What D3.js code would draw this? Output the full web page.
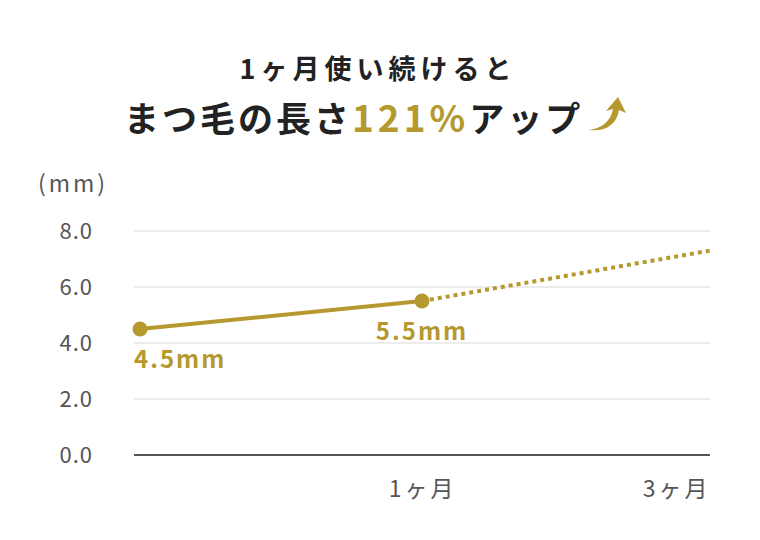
<!DOCTYPE html>
<html lang="ja">
<head>
  <meta charset="UTF-8">
  <title>まつ毛の長さ</title>
  <script src="https://d3js.org/d3.v7.min.js"></script>
  <style>
    * { margin: 0; padding: 0; }
    body { background: #fff; font-family: "Noto Sans CJK JP", "Noto Sans", sans-serif; }
  </style>
</head>
<body>
  <div class="chart"></div>
  <script>
    var width = 760;
    var height = 540;

    // data
    var categories = ['0', '1ヶ月', '3ヶ月'];
    var tickLabels = ['', '1ヶ月', '3ヶ月'];
    var measured = [4.5, 5.5];
    var projected = [5.5, 7.3];
    var pointLabels = ['4.5mm', '5.5mm'];
    var yTicks = [0, 2, 4, 6, 8];

    var gold = '#b5992f';
    var plotLeft = 134, plotRight = 710, plotTop = 231, plotBottom = 455;

    var svg = d3.select('.chart')
      .append('svg')
      .attr('width', width)
      .attr('height', height);

    var xScale = d3.scalePoint()
      .domain(categories)
      .range([140, 704]);
    var yScale = d3.scaleLinear()
      .domain([0, 8])
      .range([plotBottom, plotTop]);

    // title
    svg.append('text')
      .attr('x', 378).attr('y', 79)
      .attr('text-anchor', 'middle')
      .style('font-size', '27px').style('font-weight', 'bold')
      .attr('fill', '#222')
      .style('letter-spacing', '5px')
      .text('1ヶ月使い続けると');

    var t2 = svg.append('text')
      .attr('x', 124).attr('y', 132)
      .style('font-size', '35px').style('font-weight', 'bold')
      .attr('fill', '#222')
      .style('letter-spacing', '3px');
    t2.append('tspan').text('まつ毛の長さ');
    t2.append('tspan').attr('fill', gold).style('font-size', '37px').style('letter-spacing', '4px').text('121%');
    t2.append('tspan').text('アップ');

    // arrow icon
    svg.append('path')
      .attr('d', 'M589,130 C603,128 611,120 613,109 L606,111 L618,97 L626,113 L619,110 C617,124 606,132 589,130 Z')
      .attr('fill', gold);

    // gridlines
    svg.append('g')
      .selectAll('line')
      .data(yTicks.slice(1))
      .enter()
      .append('line')
      .attr('x1', plotLeft).attr('x2', plotRight)
      .attr('y1', function (d) { return yScale(d); })
      .attr('y2', function (d) { return yScale(d); })
      .attr('stroke', '#e6e6e6')
      .attr('stroke-width', 1.5);

    // y axis labels
    var yAxis = d3.axisLeft(yScale)
      .tickValues(yTicks)
      .tickFormat(d3.format('.1f'))
      .tickSize(0)
      .tickPadding(0);
    var yg = svg.append('g')
      .attr('transform', 'translate(93,0)')
      .call(yAxis);
    yg.select('.domain').remove();
    yg.selectAll('text')
      .style('font-size', '22px')
      .style('font-family', '"Noto Sans CJK JP", sans-serif')
      .style('letter-spacing', '1px')
      .attr('fill', '#555')
      .attr('dy', '0.35em');

    svg.append('text')
      .attr('x', 38).attr('y', 192)
      .style('font-size', '23px')
      .style('letter-spacing', '3px')
      .attr('fill', '#555')
      .text('(mm)');

    // x axis
    var xAxis = d3.axisBottom(xScale)
      .tickSize(0)
      .tickPadding(0)
      .tickFormat(function (d, i) { return tickLabels[i]; });
    var xg = svg.append('g')
      .attr('transform', 'translate(0,' + plotBottom + ')')
      .call(xAxis);
    xg.select('.domain').remove();
    xg.selectAll('text')
      .style('font-size', '23px')
      .style('font-family', '"Noto Sans CJK JP", sans-serif')
      .style('letter-spacing', '3px')
      .attr('fill', '#555')
      .attr('y', 42)
      .attr('dy', 0)
      .attr('text-anchor', function (d, i) { return i == 2 ? 'end' : 'middle'; })
      .attr('dx', function (d, i) { return i == 2 ? 6 : 0; });

    svg.append('line')
      .attr('x1', plotLeft).attr('x2', plotRight)
      .attr('y1', plotBottom).attr('y2', plotBottom)
      .attr('stroke', '#555')
      .attr('stroke-width', 2);

    // projected dotted line
    var line = d3.line()
      .x(function (d) { return d[0]; })
      .y(function (d) { return d[1]; });

    svg.append('path')
      .attr('d', line(projected.map(function (v, i) {
        return [i == 0 ? xScale(categories[1]) : plotRight, yScale(v)];
      })))
      .attr('fill', 'none')
      .attr('stroke', gold)
      .attr('stroke-width', 4)
      .attr('stroke-dasharray', '4,4');

    // measured line
    svg.append('path')
      .attr('d', line(measured.map(function (v, i) {
        return [xScale(categories[i]), yScale(v)];
      })))
      .attr('fill', 'none')
      .attr('stroke', gold)
      .attr('stroke-width', 4);

    svg.selectAll('.dot')
      .data(measured)
      .enter()
      .append('circle')
      .attr('class', 'dot')
      .attr('cx', function (d, i) { return xScale(categories[i]); })
      .attr('cy', function (d) { return yScale(d); })
      .attr('r', 7.5)
      .attr('fill', gold);

    svg.selectAll('.vlabel')
      .data(measured)
      .enter()
      .append('text')
      .attr('class', 'vlabel')
      .attr('x', function (d, i) { return i == 0 ? plotLeft : xScale(categories[i]); })
      .attr('y', function (d) { return yScale(d) + 39; })
      .attr('text-anchor', function (d, i) { return i == 0 ? 'start' : 'middle'; })
      .style('font-size', '24px')
      .style('font-weight', 'bold')
      .style('letter-spacing', '2px')
      .attr('fill', gold)
      .text(function (d, i) { return pointLabels[i]; });
  </script>
</body>
</html>
